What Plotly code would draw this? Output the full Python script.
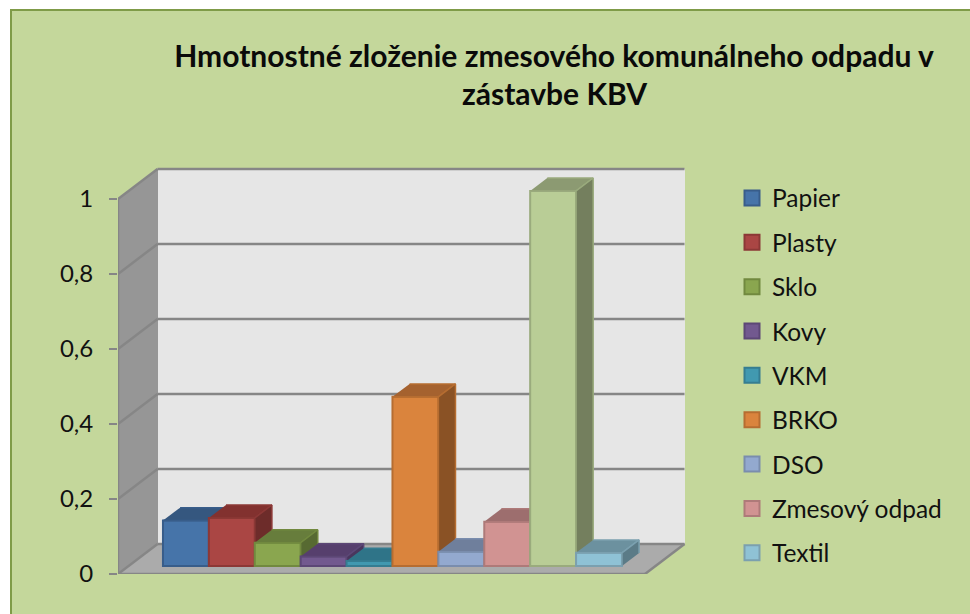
import plotly.graph_objects as go

series = ["Papier", "Plasty", "Sklo", "Kovy", "VKM", "BRKO", "DSO", "Zmesový odpad", "Textil"]
title_lines = ["Hmotnostné zloženie zmesového komunálneho odpadu v", "zástavbe KBV"]

# columns as drawn, left to right; the tall ninth column has no legend entry in the reference
bar_names = ["Papier", "Plasty", "Sklo", "Kovy", "VKM", "BRKO", "DSO", "Zmesový odpad", "", "Textil"]
bar_values = [0.121, 0.128, 0.062, 0.025, 0.013, 0.451, 0.038, 0.118, 1.0, 0.035]
bar_front = ["#4674A9", "#AA4644", "#8AA64F", "#72598F", "#4199B0", "#DA843D", "#93A9CF", "#D19392", "#B9CD96", "#8FC2D5"]
bar_line = ["#385D8A", "#8C3836", "#71893F", "#5C4776", "#357D91", "#B66D31", "#7A8DAD", "#AE7A79", "#9AAB7D", "#7BA0AF"]
bar_top = ["#35577F", "#82312F", "#677D3C", "#563F6D", "#2F7488", "#A5622F", "#6F7F9C", "#9D6E6E", "#8C9A72", "#6C919F"]
bar_side = ["#2D4A6D", "#6D2C2A", "#576A32", "#49365D", "#286273", "#8A5225", "#5E6C85", "#856060", "#747F5E", "#5B7B87"]
ticks = [0, 0.2, 0.4, 0.6, 0.8, 1]

FONT = "Lato"
GRID = "#868686"
PX_X, PX_Y = 45.9, 375.0          # pixels per column and per unit of value
W = 527 / PX_X                    # floor width in columns
DX, DY = 39.5 / PX_X, 30 / PX_Y   # shift of the back wall
D0, D1 = 0.267, 0.70              # front and back of the columns, as depth 0..1
GAP = 0.75


def proj(x, v, d):
    return x + d * DX, v + d * DY


def poly(points, fill, line=None, width=1, z=0):
    xs, ys = zip(*(proj(*p) for p in points))
    return go.Scatter(x=list(xs), y=list(ys), mode="lines", fill="toself", fillcolor=fill,
                      line=dict(color=line or fill, width=width), showlegend=False,
                      hoverinfo="skip", cliponaxis=False, zorder=z)


def seg(a, b, z=0):
    xs, ys = zip(proj(*a), proj(*b))
    return go.Scatter(x=list(xs), y=list(ys), mode="lines", line=dict(color=GRID, width=2.5),
                      showlegend=False, hoverinfo="skip", cliponaxis=False, zorder=z)


fig = go.Figure()
top_v = ticks[-1]
fig.add_trace(poly([(0, 0, 1), (W, 0, 1), (W, top_v, 1), (0, top_v, 1)], "#E6E6E6"))
fig.add_trace(poly([(0, 0, 0), (0, top_v, 0), (0, top_v, 1), (0, 0, 1)], "#969696"))
fig.add_trace(poly([(0, 0, 0), (W, 0, 0), (W, 0, 1), (0, 0, 1)], "#ABABAB"))
for t in ticks[1:]:
    fig.add_trace(seg((0, t, 1), (W, t, 1)))
    fig.add_trace(seg((0, t, 0), (0, t, 1)))
fig.add_trace(seg((0, 0, 1), (W, 0, 1)))
fig.add_trace(seg((0, 0, 0), (0, 0, 1)))
fig.add_trace(seg((0, 0, 0), (W, 0, 0)))
fig.add_trace(seg((W, 0, 0), (W, 0, 1)))
fig.add_trace(seg((0, 0, 0), (0, top_v, 0)))

base = proj(0, 0, D0)[1]
for i, v in enumerate(bar_values):
    z = i + 1
    left = GAP + i
    right = left + 1
    fig.add_trace(poly([(left, v, D0), (right, v, D0), (right, v, D1), (left, v, D1)],
                       bar_top[i], bar_line[i], 1.5, z))
    fig.add_trace(poly([(right, 0, D0), (right, v, D0), (right, v, D1), (right, 0, D1)],
                       bar_side[i], bar_line[i], 1.5, z))
    fig.add_trace(go.Bar(x=[left + 0.5 + D0 * DX], y=[v], base=[base], width=[1],
                         marker=dict(color=bar_front[i], line=dict(color=bar_line[i], width=2)),
                         showlegend=False, name=bar_names[i] or "Séria", zorder=z))

for name in series:
    k = bar_names.index(name)
    fig.add_trace(go.Scatter(x=[None], y=[None], mode="markers", name=name, legendgroup=name,
                             marker=dict(symbol="square", size=15, color=bar_front[k],
                                         line=dict(color=bar_line[k], width=2))))

X0, X1 = 118, 700
Y0, Y1 = 574, 160
TITLE_FONT = dict(family=FONT, size=30, color="#0A0A0A")
fig.update_layout(
    width=970, height=614, margin=dict(l=0, r=0, t=0, b=0, autoexpand=False), autosize=False,
    paper_bgcolor="white", plot_bgcolor="rgba(0,0,0,0)", barmode="overlay", separators=", ",
    font=dict(family=FONT, color="#111111"),
    title=dict(text=f"<b>{title_lines[0]}</b>", x=554 / 970, xanchor="center",
               y=1 - 56 / 614, yanchor="middle", font=TITLE_FONT),
    annotations=[dict(text=f"<b>{title_lines[1]}</b>", xref="paper", yref="paper", showarrow=False,
                      x=554 / 970, y=1 - 93 / 614, xanchor="center", yanchor="middle", font=TITLE_FONT)],
    xaxis=dict(domain=[X0 / 970, X1 / 970], range=[0, (X1 - X0) / PX_X], visible=False),
    yaxis=dict(domain=[(614 - Y0) / 614, (614 - Y1) / 614], range=[0, (Y0 - Y1) / PX_Y],
               tickvals=ticks, ticks="outside", ticklen=8, tickwidth=2, tickcolor=GRID,
               showgrid=False, zeroline=False, showline=False, ticklabelstandoff=11,
               tickfont=dict(family=FONT, size=24, color="#111111")),
    legend=dict(x=732 / 970, y=1 - 175.5 / 614, xanchor="left", yanchor="top", tracegroupgap=9.5,
                bgcolor="rgba(0,0,0,0)", font=dict(family=FONT, size=24.5, color="#111111"),
                itemwidth=30),
    shapes=[dict(type="rect", xref="paper", yref="paper", layer="below",
                 x0=11 / 970, x1=971 / 970, y0=-4 / 614, y1=1 - 10 / 614,
                 fillcolor="#C4D79B", line=dict(color="#7F9B48", width=2))],
)
fig.write_html("out.html", config={"displayModeBar": False},
               post_script="document.body.style.margin='0';document.documentElement.style.overflow='hidden';")
